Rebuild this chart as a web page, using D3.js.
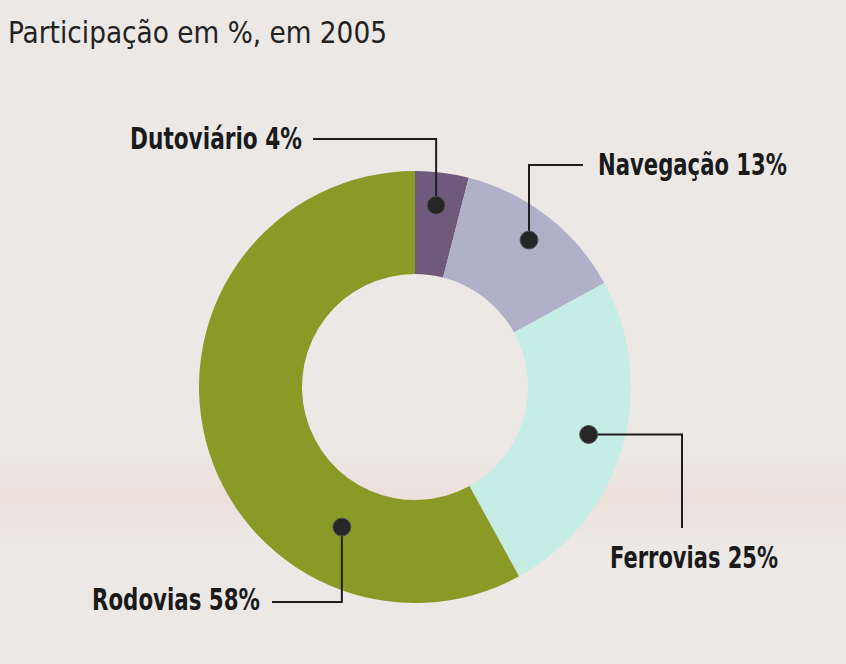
<!DOCTYPE html>
<html>
<head>
<meta charset="utf-8">
<script src="https://cdn.jsdelivr.net/npm/d3@7"></script>
<style>
  body { margin: 0; background: #ebe8e5; }
  svg { display: block; }
</style>
</head>
<body>
<svg id="chart" width="846" height="664"></svg>
<script>
// Data
const title = "Participação em %, em 2005";
const categories = ["Dutoviário", "Navegação", "Ferrovias", "Rodovias"];
const values = [4, 13, 25, 58];
const colors = ["#6f5a7e", "#b0b0c8", "#c6ece6", "#8a9a26"];

// Label layout (annotation only)
const labelLayout = [
    { frac: 0.46, r: 183, elbow: "v", bendY: 139, endX: 313, tx: 302, ty: 149, anchor: "end", w: 172 },
    { frac: 0.50, r: 186, elbow: "v", bendY: 165, endX: 583, tx: 598, ty: 175, anchor: "start", w: 189 },
    { frac: 0.49, r: 180, elbow: "h", bendX: 682, endY: 528, tx: 610, ty: 568, anchor: "start", w: 168 },
    { frac: 0.27, r: 158, elbow: "v", bendY: 602, endX: 272, tx: 260, ty: 610, anchor: "end", w: 168 }
];

const svg = d3.select("#chart");
const cx = 415, cy = 387;
const outerR = 216, innerR = 113;

// paper background with a faint show-through band
const defs = svg.append("defs");
const grad = defs.append("linearGradient")
    .attr("id", "band").attr("x1", 0).attr("y1", 0).attr("x2", 0).attr("y2", 1);
grad.append("stop").attr("offset", "0%").attr("stop-color", "#ebe8e5");
grad.append("stop").attr("offset", "50%").attr("stop-color", "#ecdfda");
grad.append("stop").attr("offset", "100%").attr("stop-color", "#ebe8e5");

svg.append("rect")
    .attr("x", 0).attr("y", 0).attr("width", 846).attr("height", 664)
    .attr("fill", "#ebe8e5");
svg.append("rect")
    .attr("x", 0).attr("y", 455).attr("width", 846).attr("height", 85)
    .attr("fill", "url(#band)");

svg.append("text")
    .attr("x", 8).attr("y", 43)
    .attr("font-family", "'DejaVu Sans Condensed', 'Liberation Sans Narrow', sans-serif")
    .attr("font-size", 30)
    .attr("fill", "#222")
    .attr("textLength", 379)
    .attr("lengthAdjust", "spacingAndGlyphs")
    .text(title);

const data = categories.map((c, i) => ({ name: c, value: values[i], color: colors[i] }));

const pie = d3.pie().value(d => d.value).sort(null);
const arcs = pie(data);

const arc = d3.arc().innerRadius(innerR).outerRadius(outerR);

const g = svg.append("g").attr("transform", `translate(${cx},${cy})`);

g.selectAll("path.slice")
    .data(arcs)
    .join("path")
    .attr("class", "slice")
    .attr("d", arc)
    .attr("fill", d => d.data.color);

// annotations
const ann = svg.append("g");
arcs.forEach((a, i) => {
    const L = labelLayout[i];
    const ang = a.startAngle + (a.endAngle - a.startAngle) * L.frac;
    const dx = cx + L.r * Math.sin(ang);
    const dy = cy - L.r * Math.cos(ang);

    let pts;
    if (L.elbow === "v") {
        pts = [[dx, dy], [dx, L.bendY], [L.endX, L.bendY]];
    } else {
        pts = [[dx, dy], [L.bendX, dy], [L.bendX, L.endY]];
    }
    ann.append("path")
        .attr("d", d3.line()(pts))
        .attr("fill", "none")
        .attr("stroke", "#1e1e1e")
        .attr("stroke-width", 2);

    ann.append("circle")
        .attr("cx", dx).attr("cy", dy).attr("r", 9)
        .attr("fill", "#262626")
        .attr("stroke", "#555")
        .attr("stroke-width", 1);

    ann.append("text")
        .attr("x", L.tx).attr("y", L.ty)
        .attr("text-anchor", L.anchor)
        .attr("font-family", "'DejaVu Sans Condensed', 'Liberation Sans Narrow', sans-serif")
        .attr("font-weight", "bold")
        .attr("font-size", 30)
        .attr("fill", "#1a1a1a")
        .attr("textLength", L.w)
        .attr("lengthAdjust", "spacingAndGlyphs")
        .text(`${a.data.name} ${a.data.value}%`);
});
</script>
</body>
</html>
